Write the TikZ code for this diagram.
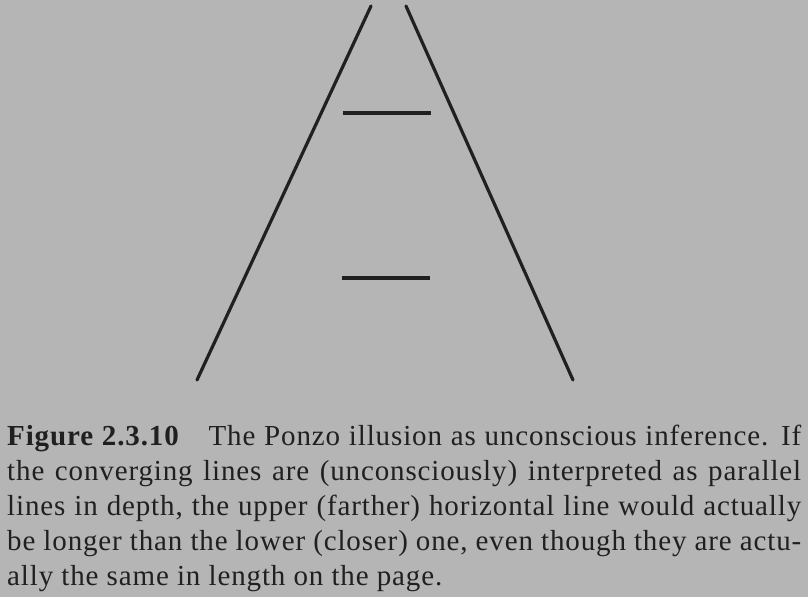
\documentclass[tikz,border=0pt]{standalone}
\usepackage{fontspec}
\setmainfont{Liberation Serif}[LetterSpace=3]
\usepackage{tikz}
\definecolor{paper}{RGB}{181,181,181}
\definecolor{ink}{RGB}{32,32,32}
\tikzstyle{rail} = [line width=3.2pt, draw=ink, line cap=round]
\tikzstyle{bar} = [line width=3.2pt, draw=ink]
\tikzstyle{caption} = [anchor=north west, inner sep=0pt, text width=794pt, align=justify, text=ink, font=\fontsize{29}{35}\selectfont]

\begin{document}
\begin{tikzpicture}[x=1pt, y=-1pt]
		\fill [paper] (0,0) rectangle (808,597);
		\useasboundingbox (0,0) rectangle (808,597);
		
		\coordinate (ltop) at (371,6);
		\coordinate (lbot) at (197,380);
		\coordinate (rtop) at (406,6);
		\coordinate (rbot) at (573,380);
		\coordinate (upl) at (343,113);
		\coordinate (upr) at (431,113);
		\coordinate (lowl) at (342,278);
		\coordinate (lowr) at (430,278);
		
		\draw [rail] (ltop) -- (lbot);
		\draw [rail] (rtop) -- (rbot);
		\draw [bar] (upl) -- (upr);
		\draw [bar] (lowl) -- (lowr);
		
		\node (cap) [caption] at (7,425) {\textbf{Figure 2.3.10}\quad The Ponzo illusion as unconscious inference. If\linebreak
			the converging lines are (unconsciously) interpreted as parallel\linebreak
			lines in depth, the upper (farther) horizontal line would actually\linebreak
			be longer than the lower (closer) one, even though they are actu-\linebreak
			ally the same in length on the page.};
		
\end{tikzpicture}
\end{document}
